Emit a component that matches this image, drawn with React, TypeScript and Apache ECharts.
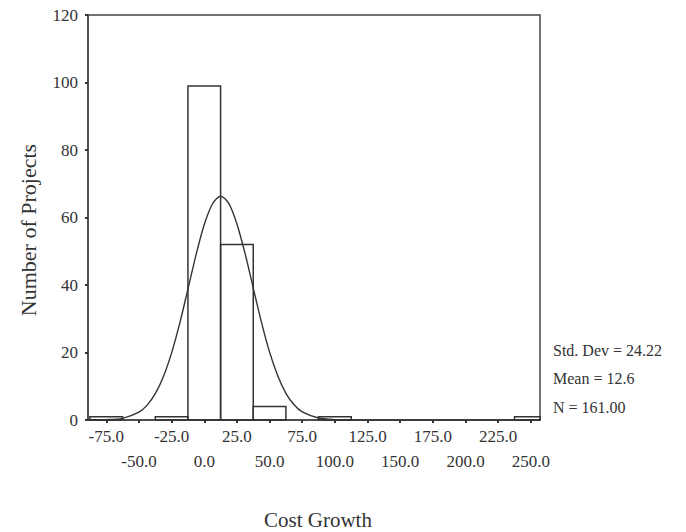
import React, { useEffect, useRef } from "react";
import * as echarts from "echarts";

// Histogram bins (bin width 25)
const binCenters = [-75, -25, 0, 25, 50, 100, 250];
const binCounts = [1, 1, 99, 52, 4, 1, 1];
const binWidth = 25;

// Normal curve
const curveX = [-89, -75, -62.5, -50, -43.75, -37.5, -31.25, -25, -18.75, -12.5, -6.25, 0, 6.25, 12.5, 18.75, 25, 31.25, 37.5, 43.75, 50, 56.25, 62.5, 68.75, 75, 87.5, 100, 112.5, 125, 150, 175, 200, 225, 250, 257];
const curveY = [0, 0.1, 0.5, 2.3, 4.4, 7.8, 12.9, 19.9, 28.7, 38.8, 49.0, 57.9, 64.0, 66.3, 64.2, 58.1, 49.3, 39.1, 29.0, 20.1, 13.1, 7.9, 4.5, 2.4, 0.6, 0.1, 0, 0, 0, 0, 0, 0, 0, 0];

// Axis ticks (labels are staggered over two rows)
const xTickValues = [-75, -50, -25, 0, 25, 50, 75, 100, 125, 150, 175, 200, 225, 250];
const xLabelsRow1 = [-75, -25, 25, 75, 125, 175, 225];
const xLabelsRow2 = [-50, 0, 50, 100, 150, 200, 250];
const yTickValues = [0, 20, 40, 60, 80, 100, 120];

const statLines = ["Std. Dev = 24.22", "Mean = 12.6", "N = 161.00"];

const FONT = "'Liberation Serif', 'Times New Roman', serif";
const INK = "#333";

export default function App() {
  const ref = useRef<HTMLDivElement>(null);
  useEffect(() => {
    if (!ref.current) return;
    const chart = echarts.init(ref.current, undefined, { renderer: "svg" });
    const barData = binCenters.map((c, i) => [c - binWidth / 2, c + binWidth / 2, binCounts[i]]);
    const labelBase = {
      showMinLabel: true,
      showMaxLabel: true,
      hideOverlap: false,
      fontFamily: FONT,
      fontSize: 17,
      color: INK,
      formatter: (v: number) => v.toFixed(1),
    };
    const option: any = {
      animation: false,
      backgroundColor: "#fff",
      grid: {
        left: 88,
        top: 15,
        right: 146,
        bottom: 112,
        show: true,
        borderColor: "#444",
        borderWidth: 1.5,
        backgroundColor: "transparent",
      },
      xAxis: [
        {
          type: "value",
          position: "bottom",
          min: -89,
          max: 257,
          splitLine: { show: false },
          axisLine: { show: true, onZero: false, lineStyle: { color: "#444", width: 1.5 } },
          axisTick: {
            show: true,
            length: 3,
            lineStyle: { color: INK, width: 2 },
            customValues: xTickValues,
          },
          axisLabel: { ...labelBase, customValues: xLabelsRow1, margin: 8 },
        },
        {
          type: "value",
          position: "bottom",
          offset: 0,
          min: -89,
          max: 257,
          splitLine: { show: false },
          axisLine: { show: false, onZero: false },
          axisTick: { show: false },
          axisLabel: { ...labelBase, customValues: xLabelsRow2, margin: 33 },
        },
      ],
      yAxis: {
        type: "value",
        min: 0,
        max: 120,
        splitLine: { show: false },
        axisLine: { show: true, onZero: false, lineStyle: { color: "#444", width: 1.5 } },
        axisTick: {
          show: true,
          length: 3,
          lineStyle: { color: INK, width: 2 },
          customValues: yTickValues,
        },
        axisLabel: {
          customValues: yTickValues,
          showMinLabel: true,
          showMaxLabel: true,
          fontFamily: FONT,
          fontSize: 17,
          color: INK,
          margin: 10,
        },
      },
      series: [
        {
          type: "custom",
          xAxisIndex: 0,
          data: barData,
          encode: { x: [0, 1], y: 2 },
          renderItem: (params: any, api: any) => {
            const x0 = api.value(0);
            const x1 = api.value(1);
            const h = api.value(2);
            const p0 = api.coord([x0, h]);
            const p1 = api.coord([x1, 0]);
            const cs = params.coordSys;
            const left = Math.max(p0[0], cs.x);
            const right = Math.min(p1[0], cs.x + cs.width);
            return {
              type: "rect",
              shape: { x: left, y: p0[1], width: right - left, height: p1[1] - p0[1] },
              style: { fill: "none", stroke: INK, lineWidth: 1.5 },
            };
          },
          z: 2,
        },
        {
          type: "line",
          xAxisIndex: 0,
          data: curveX.map((x, i) => [x, curveY[i]]),
          smooth: 0.3,
          showSymbol: false,
          lineStyle: { color: INK, width: 1.4 },
          z: 3,
        },
      ],
      graphic: [
        {
          type: "text",
          x: 28,
          y: 230,
          rotation: Math.PI / 2,
          style: {
            text: "Number of Projects",
            font: `22px ${FONT}`,
            fill: INK,
            align: "center",
            verticalAlign: "middle",
          },
        },
        {
          type: "text",
          x: 318,
          y: 520,
          style: {
            text: "Cost Growth",
            font: `21px ${FONT}`,
            fill: INK,
            align: "center",
            verticalAlign: "middle",
          },
        },
        ...statLines.map((t, i) => ({
          type: "text",
          x: 553,
          y: 350 + i * 28.5,
          style: {
            text: t,
            font: `16px ${FONT}`,
            fill: INK,
            align: "left",
            verticalAlign: "middle",
          },
        })),
      ],
    };
    chart.setOption(option);
    return () => chart.dispose();
  }, []);
  return (
    <div
      ref={ref}
      style={{ position: "fixed", left: 0, top: 0, width: 686, height: 532 }}
    />
  );
}
